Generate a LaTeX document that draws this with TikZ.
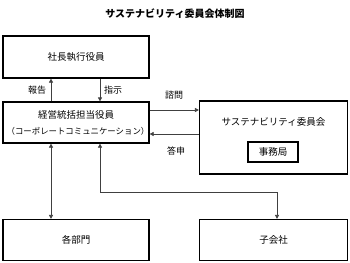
\documentclass[tikz,border=0pt]{standalone}
\usepackage{fontspec}
\setmainfont{Noto Sans CJK JP}
\usetikzlibrary{arrows.meta,calc}
\begin{document}
\begin{tikzpicture}[x=1pt,y=-1pt,
  box/.style={draw=black,line width=1.2pt,rectangle,inner sep=0pt,font=\fontsize{9.5}{11}\selectfont},
  conn/.style={draw=black!75,line width=0.7pt},
  tip/.style={-{Triangle[length=4pt,width=4pt]}},
  tips/.style={{Triangle[length=4pt,width=4pt]}-{Triangle[length=4pt,width=4pt]}},
  lbl/.style={font=\fontsize{9}{10}\selectfont,inner sep=0pt}]
\useasboundingbox (0,0) rectangle (350,262);
\node[font=\bfseries\fontsize{10}{12}\selectfont] (title) at (175,14) {サステナビリティ委員会体制図};
\node[box,minimum width=146pt,minimum height=42pt] (pres) at (76,57) {社長執行役員};
\node[box,minimum width=146pt,minimum height=41pt,align=center] (exec) at (76,122.5) {};
\node[font=\fontsize{9.5}{11}\selectfont,inner sep=0pt] (execa) at (76,115) {経営統括担当役員};
\node[font=\fontsize{8.4}{9}\selectfont,inner sep=0pt] (execb) at (78,131) {（コーポレートコミュニケーション）};
\node[box,minimum width=148pt,minimum height=73pt] (comm) at (273.5,137.5) {};
\node[font=\fontsize{9.5}{11}\selectfont,inner sep=0pt] (comml) at (273.5,122) {サステナビリティ委員会};
\node[box,line width=1.1pt,minimum width=50pt,minimum height=20pt] (office) at (273,152) {事務局};
\node[box,minimum width=146pt,minimum height=41pt] (dept) at (76,240) {各部門};
\node[box,minimum width=148pt,minimum height=41pt] (sub) at (273.5,240) {子会社};
\coordinate (xa) at (51,0);
\coordinate (xb) at (100,0);
\coordinate (xc) at (277,0);
\coordinate (ya) at (0,110);
\coordinate (yb) at (0,134);
\coordinate (yc) at (0,192);
\draw[conn,tip] (xa |- exec.north) -- (xa |- pres.south);
\draw[conn,tip] (xb |- pres.south) -- (xb |- exec.north);
\draw[conn,tip] (ya -| exec.east) -- (ya -| comm.west);
\draw[conn,tip] (yb -| comm.west) -- (yb -| exec.east);
\draw[conn,tips] (xa |- exec.south) -- (xa |- dept.north);
\draw[conn,tips] (xb |- exec.south) -- (xb |- yc) -- (xc |- yc) -- (xc |- sub.north);
\node[lbl] (l1) at (37,90) {報告};
\node[lbl] (l2) at (113,90) {指示};
\node[lbl] (l3) at (174,95) {諮問};
\node[lbl] (l4) at (176,151) {答申};
\end{tikzpicture}
\end{document}
